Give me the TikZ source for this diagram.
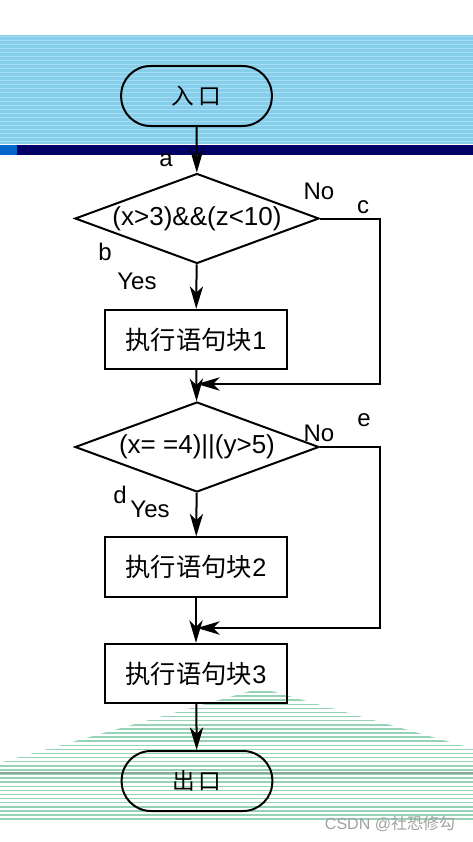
\documentclass[tikz,border=0pt]{standalone}
\usepackage{fontspec}
\setmainfont{Liberation Sans}
\newfontfamily\cjk{Noto Sans CJK SC}
\usetikzlibrary{shapes.geometric,arrows.meta}
\definecolor{bandblue}{RGB}{135,206,235}
\definecolor{bandstripe}{RGB}{165,222,244}
\definecolor{navy}{RGB}{0,0,102}
\definecolor{sqblue}{RGB}{0,102,204}
\definecolor{mint}{RGB}{150,210,180}
\definecolor{mintdark}{RGB}{140,168,155}
\definecolor{wmgray}{RGB}{160,160,160}
\tikzset{
  flow/.style={draw, line width=1.5pt, inner sep=0pt},
  term/.style={flow, rounded corners=22pt, minimum width=113pt, minimum height=45pt, font=\cjk\fontsize{17}{20}\selectfont},
  box/.style={flow, minimum width=136pt, minimum height=44.5pt, font=\fontsize{19}{22}\selectfont},
  dec/.style={flow, diamond, aspect=2.7, minimum width=183pt, minimum height=67.5pt, font=\fontsize{19.5}{22}\selectfont},
  lbl/.style={font=\fontsize{18}{20}\selectfont, inner sep=0pt},
  arr/.style={line width=1.5pt, -{Stealth[length=17pt,width=10pt,inset=5pt]}}
}
\begin{document}
\begin{tikzpicture}[x=0.75pt,y=-0.75pt]
\useasboundingbox (0,0) rectangle (473,842);
% top band
\fill[bandblue] (0,35) rectangle (473,144);
\foreach \yy in {37,41,...,143} \draw[bandstripe, line width=0.75pt] (0,\yy) -- (473,\yy);
\fill[navy] (0,145) rectangle (473,155);
\fill[sqblue] (0,145) rectangle (17,155);
% bottom striped shape
\begin{scope}
\clip (261,688) -- (0,762.6) -- (0,824) -- (473,824) -- (473,748.6) -- cycle;
\foreach \yy in {692,696.1,...,823} \draw[mint, line width=1.1pt] (0,\yy) -- (473,\yy);
\end{scope}
\draw[mintdark, line width=2.2pt] (0,773) -- (473,773);
% nodes
\node[term] (start) at (196.5,96) {入\hspace{3pt}口};
\node[dec] (d1) at (197,218.5) {(x>3)\&\&(z<10)};
\node[box] (b1) at (196,339.5) {{\cjk 执行语句块}1};
\node[dec] (d2) at (197,447) {(x= =4)||(y>5)};
\node[box] (b2) at (196,567) {{\cjk 执行语句块}2};
\node[box] (b3) at (196,673.5) {{\cjk 执行语句块}3};
\node[term] (end) at (197,781) {出\hspace{3pt}口};
\coordinate (c1) at (380,218.5);
\coordinate (m1) at (197,384);
\coordinate (c2) at (380,447);
\coordinate (m2) at (197,628);
% connectors
\draw[arr] (start) -- (d1);
\draw[arr] (d1) -- (b1);
\draw[arr] (b1) -- (d2);
\draw[arr] (d2) -- (b2);
\draw[arr] (b2) -- (b3);
\draw[arr] (b3) -- (end);
\draw[arr] (d1.east) -- (c1) |- (m1);
\draw[arr] (d2.east) -- (c2) |- (m2);
% labels
\node[lbl] (la) at (166,160) {a};
\node[lbl] (lno1) at (319,191) {No};
\node[lbl] (lc) at (363,207) {c};
\node[lbl] (lb) at (105,252) {b};
\node[lbl] (lyes1) at (137,281) {Yes};
\node[lbl] (lno2) at (319,433) {No};
\node[lbl] (le) at (364,420) {e};
\node[lbl] (ld) at (120,495) {d};
\node[lbl] (lyes2) at (150,509) {Yes};
\node[font=\fontsize{12}{14}\selectfont, text=wmgray, inner sep=0pt] (wm) at (390,824) {CSDN @{\cjk 社恐修勾}};
\end{tikzpicture}
\end{document}
